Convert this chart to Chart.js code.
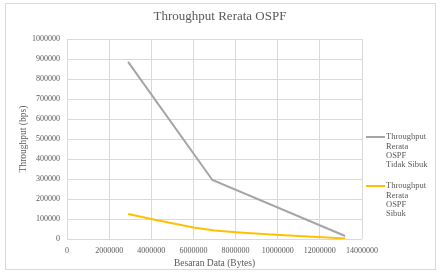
<!DOCTYPE html>
<html>
<head>
<meta charset="utf-8">
<script src="https://cdn.jsdelivr.net/npm/chart.js@4"></script>
<style>
  html, body { margin: 0; padding: 0; background: #fff; }
  #wrap { width: 441px; height: 273px; position: relative; }
</style>
</head>
<body>
<div id="wrap"><canvas id="chart"></canvas></div>
<script>
// data
const sizeTidakSibuk = [2900000, 6900000, 13200000];
const tpTidakSibuk = [886000, 295000, 15000];
const sizeSibuk = [2900000, 4000000, 6000000, 7000000, 8200000, 10100000, 13200000];
const tpSibuk = [125000, 100000, 58000, 42000, 32000, 20000, 3000];
const labelTidakSibuk = ['Throughput', 'Rerata', 'OSPF', 'Tidak Sibuk'];
const labelSibuk = ['Throughput', 'Rerata', 'OSPF', 'Sibuk'];
const chartTitle = 'Throughput Rerata OSPF';

const TEXT = '#595959';
const SERIF = '"Liberation Serif", "DejaVu Serif", serif';

function toPoints(xs, ys) {
  return xs.map((x, i) => ({ x: x, y: ys[i] }));
}

// bingkai luar, judul di tengah kanvas, legenda bertingkat
const frameLegend = {
  id: 'frameLegend',
  beforeDraw(chart) {
    const ctx = chart.ctx;
    ctx.save();
    ctx.strokeStyle = '#d9d9d9';
    ctx.lineWidth = 1;
    ctx.strokeRect(5.5, 3.5, 430, 266);
    ctx.restore();
  },
  afterDraw(chart) {
    const ctx = chart.ctx;
    ctx.save();
    ctx.fillStyle = TEXT;
    ctx.textBaseline = 'middle';
    ctx.textAlign = 'center';
    ctx.font = '13px ' + SERIF;
    ctx.fillText(chartTitle, 220, 17);

    const tops = [137, 186];
    ctx.textAlign = 'left';
    ctx.font = '8.5px ' + SERIF;
    chart.data.datasets.forEach((ds, i) => {
      const y = tops[i];
      ctx.strokeStyle = ds.borderColor;
      ctx.lineWidth = 2;
      ctx.beginPath();
      ctx.moveTo(366, y);
      ctx.lineTo(385, y);
      ctx.stroke();
      ds.legendLines.forEach((t, k) => {
        ctx.fillText(t, 386, y + k * 9.3);
      });
    });
    ctx.restore();
  }
};

new Chart(document.getElementById('chart'), {
  type: 'scatter',
  data: {
    datasets: [
      {
        label: labelTidakSibuk.join(' '),
        legendLines: labelTidakSibuk,
        data: toPoints(sizeTidakSibuk, tpTidakSibuk),
        showLine: true,
        borderColor: '#a5a5a5',
        borderWidth: 2,
        pointRadius: 0,
        tension: 0
      },
      {
        label: labelSibuk.join(' '),
        legendLines: labelSibuk,
        data: toPoints(sizeSibuk, tpSibuk),
        showLine: true,
        borderColor: '#ffc000',
        borderWidth: 2,
        pointRadius: 0,
        tension: 0
      }
    ]
  },
  options: {
    responsive: true,
    maintainAspectRatio: false,
    animation: false,
    layout: { padding: { left: 0, right: 79, top: 39, bottom: 0 } },
    scales: {
      x: {
        type: 'linear',
        min: 0,
        max: 14000000,
        afterFit: s => { s.height = 34; },
        border: { display: false },
        grid: { color: '#d9d9d9', drawTicks: false },
        ticks: {
          stepSize: 2000000,
          padding: 7,
          maxRotation: 0,
          color: TEXT,
          font: { family: SERIF, size: 8 },
          callback: v => String(v)
        },
        title: {
          display: true,
          text: 'Besaran Data (Bytes)',
          color: TEXT,
          font: { family: SERIF, size: 9.5 },
          padding: { top: 0, bottom: 4 }
        }
      },
      y: {
        min: 0,
        max: 1000000,
        afterFit: s => { s.width = 67; },
        border: { display: false },
        grid: { color: '#d9d9d9', drawTicks: false },
        ticks: {
          stepSize: 100000,
          padding: 7,
          color: TEXT,
          font: { family: SERIF, size: 8 },
          callback: v => String(v)
        },
        title: {
          display: true,
          text: 'Throughput (bps)',
          color: TEXT,
          font: { family: SERIF, size: 9.5 },
          padding: { top: 18, bottom: 0 }
        }
      }
    },
    plugins: {
      legend: { display: false },
      tooltip: { enabled: false },
      title: { display: false }
    }
  },
  plugins: [frameLegend]
});
</script>
</body>
</html>
